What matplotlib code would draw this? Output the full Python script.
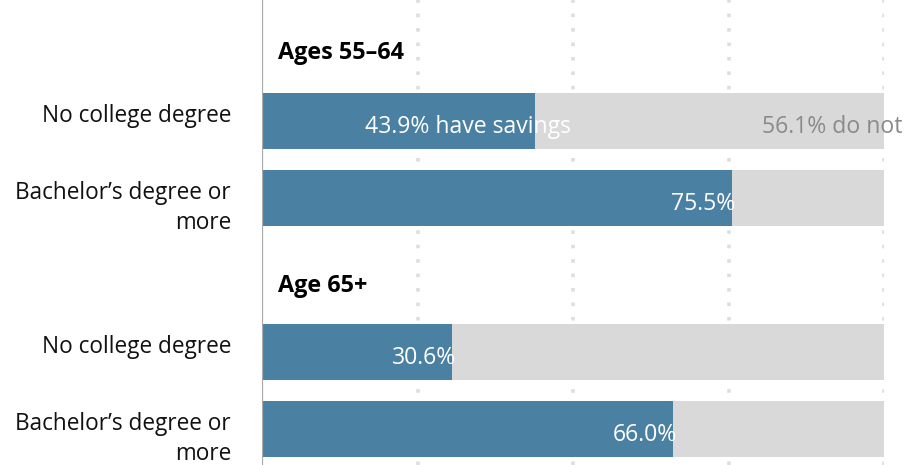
import matplotlib
matplotlib.use("Agg")
import matplotlib.pyplot as plt
import numpy as np

plt.rcParams['font.family'] = ['Open Sans', 'DejaVu Sans']

# Share of households with retirement savings, by age group and education
groups = ["Ages 55\u201364", "Age 65+"]
categories = ["No college degree", "Bachelor\u2019s degree or\nmore"]
have_savings = [[43.9, 75.5], [30.6, 66.0]]

BLUE = "#4a80a2"
GREY = "#d9d9d9"

fig = plt.figure(figsize=(9.09, 4.65), dpi=100)
ax = fig.add_axes([262 / 909, 0, (884 - 262) / 909, 1])

# row positions: two rows per group, with a one-row gap for each group header
ypos, labels, vals, headers = [], [], [], []
pos = 0
for g, name in enumerate(groups):
    headers.append((pos - 0.8 + (0.02 if g else 0), name))
    for c, cat in enumerate(categories):
        ypos.append(pos)
        labels.append(cat)
        vals.append(have_savings[g][c])
        pos += 1
    pos += 1

vals = np.array(vals)
ypos = np.array(ypos, dtype=float)
h = 0.727

ax.barh(ypos, vals, height=h, color=BLUE, zorder=2)
ax.barh(ypos, 100 - vals, left=vals, height=h, color=GREY, zorder=2)

for x in (25, 50, 75, 100):
    ax.axvline(x, color="#dedede", lw=2.6, ls=(0, (1, 3)), zorder=1)
ax.axvline(0, color="#a9a9a9", lw=1.6, zorder=3)

FS = 16.6
for i, (y, v) in enumerate(zip(ypos, vals)):
    if i == 0:
        ax.annotate(f"{v:.1f}% have savings", xy=(v, y), xytext=(36, -12),
                    textcoords="offset pixels", ha="right", va="baseline",
                    color="white", fontsize=FS, zorder=4)
        ax.annotate(f"{100 - v:.1f}% do not", xy=(100, y), xytext=(19, -12),
                    textcoords="offset pixels", ha="right", va="baseline",
                    color="#8a8a8a", fontsize=FS, zorder=4, annotation_clip=False)
    else:
        ax.annotate(f"{v:.1f}%", xy=(v, y), xytext=(4, -12),
                    textcoords="offset pixels", ha="right", va="baseline",
                    color="white", fontsize=FS, zorder=4)

for y, name in headers:
    ax.text(2.6, y, name, ha="left", va="baseline", fontsize=16.8,
            fontweight="bold", color="black")

# category labels to the left of the bars, first line on the bar's centre
LINE_PX = 30
for y, lab in zip(ypos, labels):
    extra = lab.count("\n")
    ax.annotate(lab, xy=(0, y), xycoords=("axes fraction", "data"),
                xytext=(-31, -1 - LINE_PX * extra), textcoords="offset pixels",
                ha="right", va="baseline", multialignment="right",
                fontsize=16.3, linespacing=1.33, color="#111111",
                annotation_clip=False)

ax.set_yticks([])
ax.set_xticks([])
ax.set_xlim(0, 100)
ax.set_ylim(4.468, -1.571)
for s in ax.spines.values():
    s.set_visible(False)

fig.savefig("out.png", dpi=100)
